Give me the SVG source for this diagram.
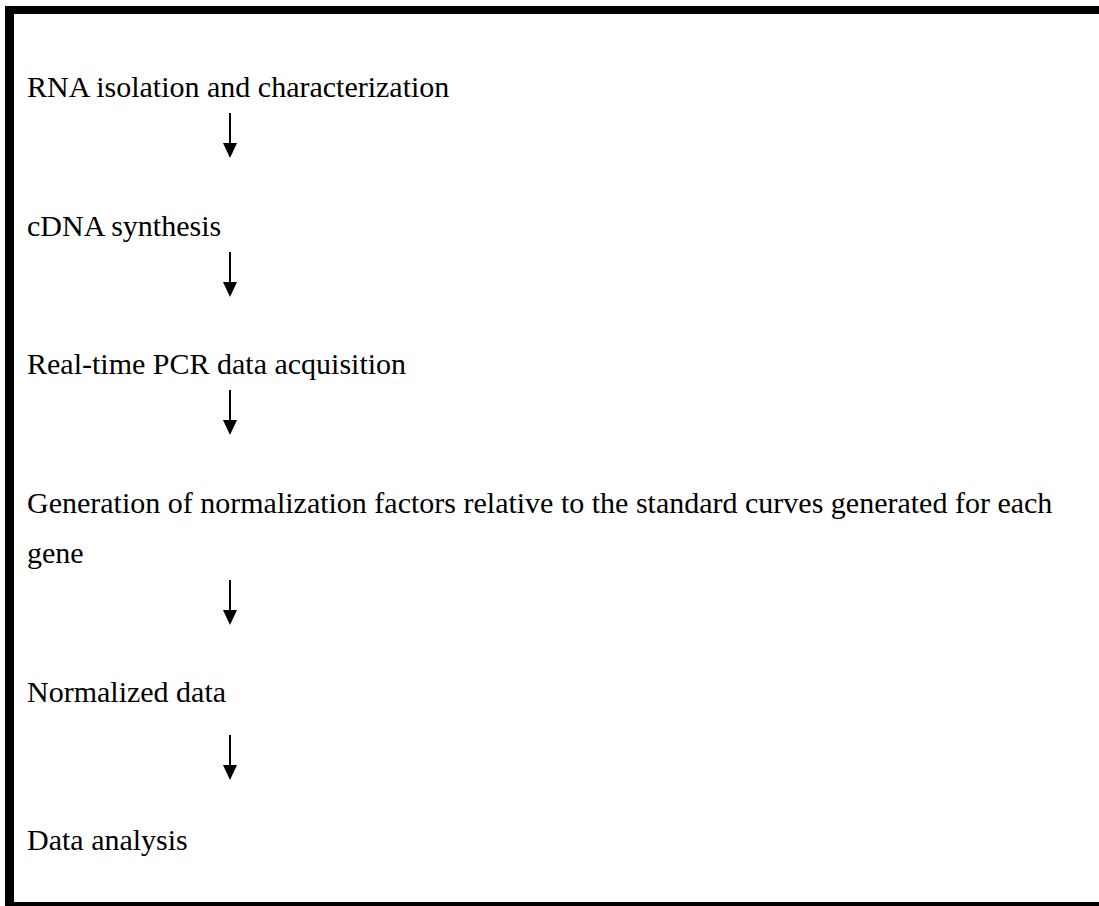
<svg xmlns="http://www.w3.org/2000/svg" width="1099" height="906" viewBox="0 0 1099 906">
<style>
.t{font-family:"Liberation Serif","Times New Roman",serif;font-size:30px;fill:#000}
.c{stroke:#000;stroke-width:2;fill:none}
.h{fill:#000}
</style>
<rect width="1099" height="906" fill="#fff"/>
<g id="frame">
<rect x="5" y="6" width="9" height="900" fill="#000"/>
<rect x="5" y="6" width="1094" height="8" fill="#000"/>
<rect x="5" y="902" width="1094" height="4" fill="#000"/>
</g>
<g id="n1"><text class="t" x="27" y="97">RNA isolation and characterization</text></g>
<g id="n2"><text class="t" x="27" y="236">cDNA synthesis</text></g>
<g id="n3"><text class="t" x="27" y="374">Real-time PCR data acquisition</text></g>
<g id="n4"><text class="t" x="27" y="513">Generation of normalization factors relative to the standard curves generated for each</text><text class="t" x="27" y="563">gene</text></g>
<g id="n5"><text class="t" x="27" y="702">Normalized data</text></g>
<g id="n6"><text class="t" x="27" y="850">Data analysis</text></g>
<g id="connectors">
<line class="c" x1="230" y1="113" x2="230" y2="144"/><polygon class="h" points="223,143 237,143 230,158"/>
<line class="c" x1="230" y1="252" x2="230" y2="283"/><polygon class="h" points="223,282 237,282 230,297"/>
<line class="c" x1="230" y1="390" x2="230" y2="421"/><polygon class="h" points="223,420 237,420 230,435"/>
<line class="c" x1="230" y1="580" x2="230" y2="611"/><polygon class="h" points="223,610 237,610 230,625"/>
<line class="c" x1="230" y1="735" x2="230" y2="766"/><polygon class="h" points="223,765 237,765 230,780"/>
</g>
</svg>
